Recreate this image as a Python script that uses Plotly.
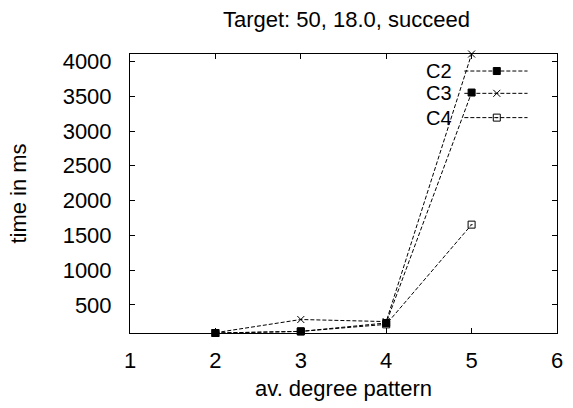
import plotly.graph_objects as go

x_vals = [2, 3, 4, 5]
c2 = [96, 119, 240, 3553]
c3 = [100, 290, 260, 4107]
c4 = [96, 119, 220, 1654]
series_names = ["C2", "C3", "C4"]
x_ticks = [1, 2, 3, 4, 5, 6]
y_ticks = [500, 1000, 1500, 2000, 2500, 3000, 3500, 4000]

FONT = "Liberation Sans, Arial, sans-serif"
FS = 22
dash = "4px,2px"
symbols = ["square", "x-thin-open", "square-open-dot"]
sizes = [7, 7, 7]

fig = go.Figure()
for name, ys, sym, sz in zip(series_names, [c2, c3, c4], symbols, sizes):
    fig.add_trace(go.Scatter(
        x=x_vals, y=ys, mode="lines+markers", name=name,
        line=dict(color="black", width=1, dash=dash),
        marker=dict(symbol=sym, size=sz, color="black",
                    line=dict(color="black", width=1)),
        showlegend=False, cliponaxis=False))

# gnuplot-style key (text left of sample)
leg_y = [0.939, 0.859, 0.772]
for name, yy, sym, sz in zip(series_names, leg_y, symbols, sizes):
    fig.add_shape(type="line", xref="paper", yref="paper",
                  x0=0.783, x1=0.931, y0=yy, y1=yy,
                  line=dict(color="black", width=1, dash=dash))
    fig.add_trace(go.Scatter(x=[0.859], y=[yy], xaxis="x2", yaxis="y2",
                             mode="markers", showlegend=False,
                             marker=dict(symbol=sym, size=sz, color="black",
                                         line=dict(color="black", width=1))))
    fig.add_annotation(x=0.757, y=yy, xref="paper", yref="paper",
                       text=name, showarrow=False, xanchor="right",
                       yanchor="middle", borderpad=0,
                       font=dict(size=20, color="black", family=FONT))

axis_common = dict(showgrid=False, zeroline=False, showline=True, mirror="allticks",
                   linecolor="black", linewidth=1, ticks="inside", ticklen=5,
                   tickcolor="black", tickfont=dict(size=FS, color="black", family=FONT))

fig.update_layout(
    width=573, height=408,
    margin=dict(l=130, r=10, t=54, b=75),
    paper_bgcolor="white", plot_bgcolor="white",
    title=dict(text="Target: 50, 18.0, succeed", x=(130 + 563) / 2 / 573,
               xanchor="center", y=1 - 19 / 408, yanchor="middle",
               font=dict(size=FS, color="black", family=FONT)),
    xaxis=dict(range=[1, 6], tickvals=x_ticks, ticklabelstandoff=8,
               title=dict(text="av. degree pattern", standoff=8,
                          font=dict(size=FS, color="black", family=FONT)),
               **axis_common),
    yaxis=dict(range=[96, 4107], tickvals=y_ticks, ticklabelstandoff=13,
               title=dict(text="time in ms", standoff=29,
                          font=dict(size=FS, color="black", family=FONT)),
               **axis_common),
    xaxis2=dict(range=[0, 1], overlaying="x", visible=False),
    yaxis2=dict(range=[0, 1], overlaying="y", visible=False),
)

fig.write_html("out.html", config={"displayModeBar": False},
               post_script="document.body.style.margin='0';document.body.style.padding='0';")
